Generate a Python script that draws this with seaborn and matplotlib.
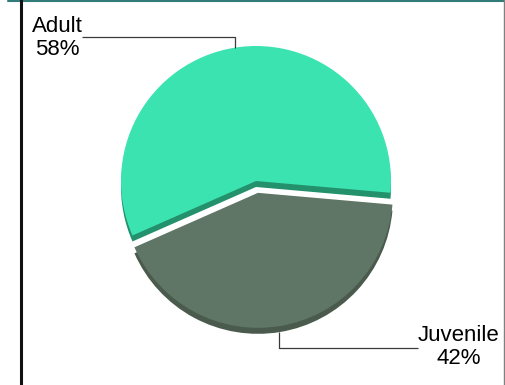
import numpy as np
import matplotlib.pyplot as plt
import seaborn as sns
from matplotlib.lines import Line2D

labels = ["Adult", "Juvenile"]
shares = [58, 42]
pct_text = ["58%", "42%"]
top_colors = ["#3be3b0", "#5f7565"]
side_colors = ["#23916c", "#4a5b4e"]

sns.set_theme(style="white")
plt.rcParams['font.family'] = ['Liberation Sans', 'DejaVu Sans']

fig = plt.figure(figsize=(5.06, 3.85), dpi=100)
ax = fig.add_axes([0, 0, 1, 1])

# pie in pixel-like data units, y pointing up
cx, cy, r = 256, 204, 135
depth = 6
# matplotlib's explode is an absolute offset in data units here
pull = [0, 12]

# darker copy underneath gives the 3D rim
ax.pie(shares, colors=side_colors, explode=pull, startangle=-5,
       center=(cx, cy - depth), radius=r, wedgeprops=dict(linewidth=0))
wedges, _ = ax.pie(shares, colors=top_colors, explode=pull, startangle=-5,
                   center=(cx, cy), radius=r, wedgeprops=dict(linewidth=0))

ax.set_xlim(0, 506)
ax.set_ylim(0, 385)
ax.set_aspect('auto')
ax.axis('off')


def rim(w, ang, drop=0):
    a = np.deg2rad(ang)
    return w.center[0] + w.r * np.cos(a), w.center[1] + w.r * np.sin(a) - drop


line_kw = dict(color="#3a3a3a", lw=0.9, solid_capstyle='butt')

# Adult label, top-left
ax_x, ax_y = rim(wedges[0], 99)
ax.plot([82, ax_x, ax_x], [348, 348, ax_y], **line_kw)
ax.text(57, 347, f"{labels[0]}\n{pct_text[0]}", ha='center', va='center',
        fontsize=16, color="black", linespacing=1.15)

# Juvenile label, bottom-right
jx, jy = rim(wedges[1], -81, drop=depth)
ax.plot([jx, jx, 418], [jy, 37, 37], **line_kw)
ax.text(459, 38, f"{labels[1]}\n{pct_text[1]}", ha='center', va='center',
        fontsize=16, color="black", linespacing=1.15)

# frame pieces around the chart area
fig.add_artist(Line2D([8 / 506, 1], [1 - 1 / 385] * 2, transform=fig.transFigure,
                      color="#337b78", lw=1.5))
fig.add_artist(Line2D([21.5 / 506] * 2, [0, 1], transform=fig.transFigure,
                      color="#111111", lw=2.2))
fig.add_artist(Line2D([504 / 506] * 2, [0, 1], transform=fig.transFigure,
                      color="#808080", lw=1))

fig.savefig("out.png", dpi=100, facecolor="white")
